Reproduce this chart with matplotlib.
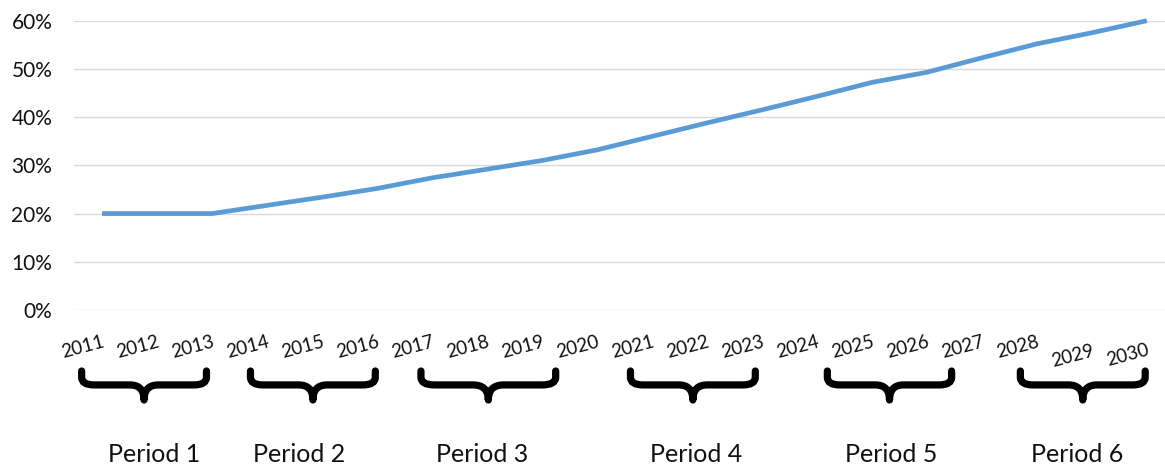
"""
Projected share by year, 2011-2030, with the years grouped into six periods
by braces under the category axis.
"""

import matplotlib

matplotlib.use("Agg")
import matplotlib.pyplot as plt
from matplotlib.path import Path
from matplotlib.patches import PathPatch
from matplotlib.ticker import PercentFormatter
import matplotlib.transforms as mtransforms

years = [str(y) for y in range(2011, 2031)]
share = [20.0, 20.0, 20.0, 21.7, 23.4, 25.2, 27.4, 29.2, 31.0, 33.2,
         36.0, 38.8, 41.5, 44.3, 47.2, 49.3, 52.3, 55.2, 57.5, 60.0]
periods = ["Period 1", "Period 2", "Period 3", "Period 4", "Period 5", "Period 6"]

# layout (category-index units for x)
BRACE_SPANS = [(-0.37, 1.90), (2.70, 4.97), (5.80, 8.25),
               (9.61, 11.88), (13.19, 15.45), (16.70, 18.97)]
PERIOD_X = [0.94, 3.58, 6.91, 10.8, 14.35, 17.73]
LABEL_DROP = {18: 9, 19: 8}  # px, a couple of year labels sit lower

LINE = "#5B9BD5"
GRID = "#D9D9D9"
INK = "#111111"

plt.rcParams["font.family"] = ["Lato", "DejaVu Sans"]

fig = plt.figure(figsize=(11.65, 4.67), dpi=100)
ax = fig.add_axes([74.5 / 1165, 157 / 467, 1090.5 / 1165, 289.3 / 467])

x = range(len(years))
ax.plot(x, [v / 100 for v in share], color=LINE, lw=3.4,
        solid_capstyle="butt", clip_on=False, zorder=3)

ax.set_xlim(-0.5, 19.33)
ax.set_ylim(0, 0.6)
ax.set_yticks([i / 10 for i in range(7)])
ax.yaxis.set_major_formatter(PercentFormatter(1.0, decimals=0))
ax.grid(axis="y", color=GRID, lw=1.0, zorder=0)
for s in ax.spines.values():
    s.set_visible(False)
ax.tick_params(axis="y", length=0, pad=16, labelsize=15, labelcolor=INK)
ax.tick_params(axis="x", length=0, pad=17, labelsize=13.5, labelcolor=INK)

ax.set_xticks(list(x), years, rotation=15, rotation_mode="anchor",
              ha="right", va="top")
for i, lbl in enumerate(ax.get_xticklabels()):
    dy = LABEL_DROP.get(i, 0)
    if dy:
        lbl.set_transform(lbl.get_transform() +
                          mtransforms.ScaledTranslation(0, -dy / 100, fig.dpi_scale_trans))

# braces: x in data units, y in figure fraction
btrans = mtransforms.blended_transform_factory(ax.transData, fig.transFigure)
B_TOP, B_BOT = (467 - 371) / 467, (467 - 400) / 467


def brace(x0, x1):
    # unit brace opening upward, tip pointing down at the middle
    pts = [(0, 1), (0, 0.78), (0, 0.52), (0.1, 0.52), (0.386, 0.52),
           (0.5, 0.52), (0.5, 0.0), (0.5, 0.52), (0.614, 0.52),
           (0.9, 0.52), (1, 0.52), (1, 0.78), (1, 1)]
    codes = [Path.MOVETO, Path.LINETO, Path.CURVE3, Path.CURVE3, Path.LINETO,
             Path.CURVE3, Path.CURVE3, Path.CURVE3, Path.CURVE3,
             Path.LINETO, Path.CURVE3, Path.CURVE3, Path.LINETO]
    verts = [(x0 + u * (x1 - x0), B_BOT + v * (B_TOP - B_BOT)) for u, v in pts]
    return PathPatch(Path(verts, codes), transform=btrans, fill=False,
                     lw=5.2, ec="black", capstyle="round", joinstyle="round",
                     clip_on=False)


for (x0, x1), px, name in zip(BRACE_SPANS, PERIOD_X, periods):
    fig.add_artist(brace(x0, x1))
    ax.text(px, 5 / 467, name, transform=btrans, ha="center", va="baseline",
            fontsize=18, color=INK, clip_on=False)

fig.savefig("out.png")
